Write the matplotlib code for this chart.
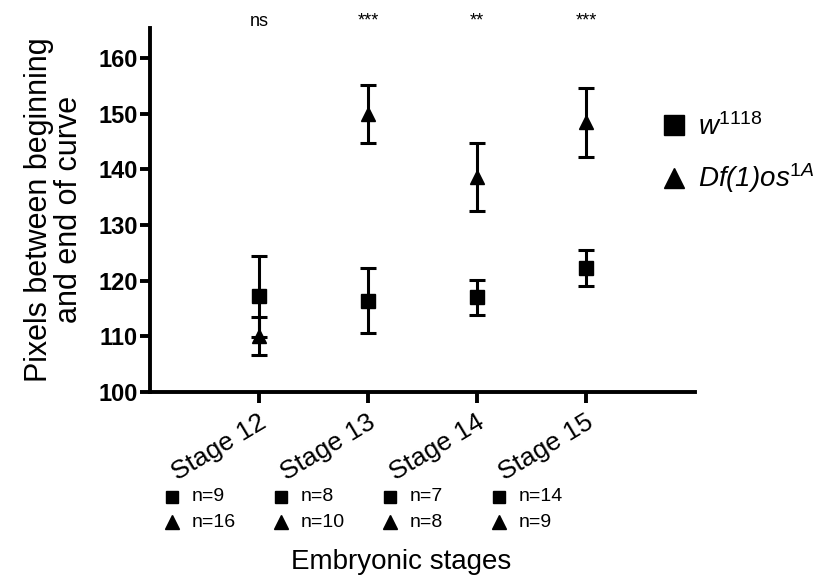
import matplotlib
matplotlib.use("Agg")
import matplotlib.pyplot as plt
from matplotlib.lines import Line2D
from matplotlib.transforms import blended_transform_factory

plt.rcParams['font.family'] = ['Liberation Sans', 'DejaVu Sans']
plt.rcParams['mathtext.fontset'] = 'custom'
plt.rcParams['mathtext.it'] = 'Liberation Sans:italic'
plt.rcParams['mathtext.rm'] = 'Liberation Sans'

# data
stages = ['Stage 12', 'Stage 13', 'Stage 14', 'Stage 15']
w_mean = [117.2, 116.4, 117.0, 122.3]
w_err = [7.3, 5.8, 3.1, 3.2]
df_mean = [110.0, 150.0, 138.6, 148.4]
df_err = [3.4, 5.2, 6.1, 6.2]
signif = ['ns', '***', '**', '***']
n_w = [9, 8, 7, 14]
n_df = [16, 10, 8, 9]

x = [1, 2, 3, 4]

fig = plt.figure(figsize=(8.16, 5.79), dpi=100)
ax = fig.add_axes([0.184, 0.323, 0.668, 0.629])

ax.errorbar(x, w_mean, yerr=w_err, fmt='s', color='black', ms=9.5,
            elinewidth=2.2, capsize=6, capthick=2.2, zorder=3)
ax.errorbar(x, df_mean, yerr=df_err, fmt='^', color='black', ms=10.5,
            elinewidth=2.2, capsize=6, capthick=2.2, zorder=3)

ax.set_xlim(0, 5)
ax.set_ylim(100, 165.4)
ax.set_yticks([100, 110, 120, 130, 140, 150, 160])
ax.set_xticks(x)
ax.set_xticklabels([])
for lab in ax.get_yticklabels():
    lab.set_fontweight('bold')
ax.tick_params(axis='y', labelsize=17, width=2.8, length=7, pad=2)
ax.tick_params(axis='x', width=2.8, length=8)

for s in ['top', 'right']:
    ax.spines[s].set_visible(False)
for s in ['left', 'bottom']:
    ax.spines[s].set_linewidth(2.8)

ax.set_ylabel('Pixels between beginning\nand end of curve', fontsize=22,
              linespacing=1.0, labelpad=10)

trans = blended_transform_factory(ax.transData, ax.transAxes)
for xi, lab, s, nw, nd in zip(x, stages, signif, n_w, n_df):
    ax.text(xi - 0.01, -0.05, lab, transform=trans, rotation=31,
            rotation_mode='anchor', ha='right', va='top', fontsize=19)
    ax.text(xi, 1.005, s, transform=trans, ha='center', va='baseline', fontsize=13)
    ax.plot(xi - 0.8, -0.288, 's', color='black', ms=8.5, transform=trans, clip_on=False)
    ax.plot(xi - 0.8, -0.358, '^', color='black', ms=9.5, transform=trans, clip_on=False)
    ax.text(xi - 0.62, -0.288, f'n={nw}', transform=trans,
            ha='left', va='center', fontsize=14)
    ax.text(xi - 0.62, -0.358, f'n={nd}', transform=trans,
            ha='left', va='center', fontsize=14)

fig.text(0.492, 0.029, 'Embryonic stages', ha='center', va='center', fontsize=20)

handles = [Line2D([], [], marker='s', ls='none', color='black', ms=14),
           Line2D([], [], marker='^', ls='none', color='black', ms=15)]
fig.legend(handles,
           [r'w$^{\mathit{1118}}$', r'Df(1)os$^{\mathit{1A}}$'],
           loc='upper left', bbox_to_anchor=(0.78, 0.848),
           frameon=False, prop={'style': 'italic', 'size': 20},
           handlelength=0.9, handletextpad=0.4, labelspacing=0.75)

fig.savefig('out.png', dpi=100)
